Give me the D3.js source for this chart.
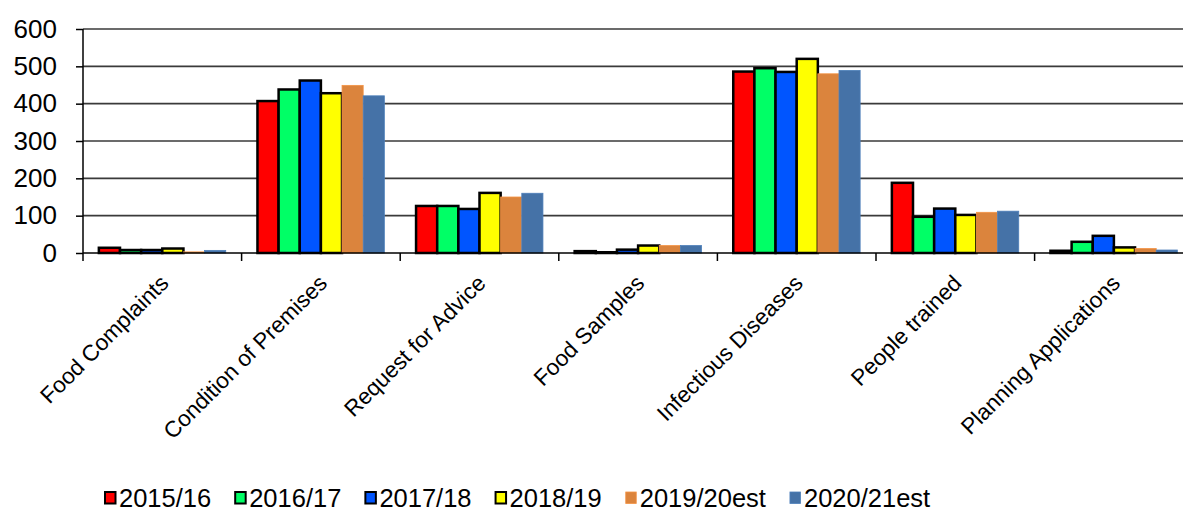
<!DOCTYPE html>
<html>
<head>
<meta charset="utf-8">
<script src="https://cdn.jsdelivr.net/npm/d3@7/dist/d3.min.js"></script>
<style>
  html, body { margin: 0; padding: 0; background: #fff; }
  svg { display: block; font-family: "Liberation Sans", Arial, sans-serif; }
</style>
</head>
<body>
<svg id="chart" width="1183" height="511"></svg>
<script>
const categories = ["Food Complaints", "Condition of Premises", "Request for Advice", "Food Samples", "Infectious Diseases", "People trained", "Planning Applications"];
const seriesNames = ["2015/16", "2016/17", "2017/18", "2018/19", "2019/20est", "2020/21est"];
const s2015 = [14, 407, 126, 5, 486, 188, 6];
const s2016 = [8, 438, 126, 2, 495, 97, 30];
const s2017 = [8, 462, 118, 9, 485, 119, 46];
const s2018 = [12, 428, 161, 20, 520, 102, 15];
const s2019 = [3, 449, 150, 20, 480, 109, 12];
const s2020 = [7, 421, 160, 20, 489, 112, 8];
const yTicks = [0, 100, 200, 300, 400, 500, 600];
const colors = ["#FF0000", "#00FF66", "#0055FF", "#FFFF00", "#DB843D", "#4572A7"];
const outlined = [true, true, true, true, false, false];

const seriesValues = [s2015, s2016, s2017, s2018, s2019, s2020];

const svg = d3.select("#chart");
const left = 83, baseY = 253, topY = 29;
const bandW = 158.6;

const x0 = d3.scaleBand().domain(categories).range([left, left + bandW * categories.length]).padding(0);
const x1 = d3.scaleBand().domain(seriesNames).range([0, x0.bandwidth()]).paddingInner(0).paddingOuter(0.75);
const y = d3.scaleLinear().domain([0, 600]).range([baseY, topY]);

// gridlines
svg.append("g").selectAll("line").data(yTicks.filter(d => d > 0)).join("line")
  .attr("x1", left).attr("x2", 1183)
  .attr("y1", d => y(d)).attr("y2", d => y(d))
  .attr("stroke", "#3a3a3a").attr("stroke-width", 1.6);

// y axis
const yAxis = d3.axisLeft(y).tickValues(yTicks).tickSize(7).tickPadding(19).tickSizeOuter(0);
const gy = svg.append("g").attr("transform", `translate(${left},0)`).call(yAxis);
gy.select(".domain").remove();
gy.selectAll(".tick line").attr("stroke", "#000").attr("stroke-width", 1.5);
gy.selectAll(".tick text").attr("font-size", 26).attr("fill", "#000")
  .attr("font-family", "'Liberation Sans', Arial, sans-serif");

// bars
const groups = svg.append("g").selectAll("g").data(categories).join("g")
  .attr("transform", d => `translate(${x0(d)},0)`);
groups.each(function(cat, ci) {
  d3.select(this).selectAll("rect")
    .data(seriesNames.map((s, si) => ({ s, si, v: seriesValues[si][ci] })))
    .join("rect")
    .attr("x", d => x1(d.s))
    .attr("y", d => y(d.v))
    .attr("width", x1.bandwidth())
    .attr("height", d => baseY - y(d.v))
    .attr("fill", d => colors[d.si])
    .attr("stroke", d => outlined[d.si] ? "#000" : d3.color(colors[d.si]).brighter(0.3))
    .attr("stroke-width", d => outlined[d.si] ? 2.5 : 0.8);
});

// x axis
svg.append("line").attr("x1", left).attr("x2", 1183).attr("y1", baseY).attr("y2", baseY)
  .attr("stroke", "#000").attr("stroke-width", 1.5);
svg.append("line").attr("x1", left).attr("x2", left).attr("y1", topY).attr("y2", baseY + 8)
  .attr("stroke", "#000").attr("stroke-width", 1.5);
const xAxis = d3.axisBottom(x0).tickSize(0).tickFormat("");
const gx = svg.append("g").attr("transform", `translate(0,${baseY})`).call(xAxis);
gx.select(".domain").remove();
svg.append("g").selectAll("line").data(categories.slice(1)).join("line")
  .attr("x1", d => x0(d)).attr("x2", d => x0(d))
  .attr("y1", baseY).attr("y2", baseY + 8)
  .attr("stroke", "#000").attr("stroke-width", 1.5);

// category labels
svg.append("g").selectAll("text").data(categories).join("text")
  .attr("transform", d => `translate(${x0(d) + x0.bandwidth() / 2 + 2},279) rotate(-45)`)
  .attr("text-anchor", "end")
  .attr("dy", "0.35em")
  .attr("font-size", 22.5)
  .attr("fill", "#000")
  .text(d => d);

// legend
const legend = svg.append("g");
let lx = 104;
seriesNames.forEach((s, i) => {
  const g = legend.append("g").attr("transform", `translate(${lx},0)`);
  g.append("rect").attr("x", 1).attr("y", 492).attr("width", 10.5).attr("height", 11.5)
    .attr("fill", colors[i])
    .attr("stroke", outlined[i] ? "#000" : d3.color(colors[i]).brighter(0.3))
    .attr("stroke-width", outlined[i] ? 2 : 0.8);
  const t = g.append("text").attr("x", 15).attr("y", 507).attr("font-size", 25.5).attr("fill", "#000").text(s);
  const w = t.node().getComputedTextLength();
  lx += 15 + w + 23;
});
</script>
</body>
</html>
